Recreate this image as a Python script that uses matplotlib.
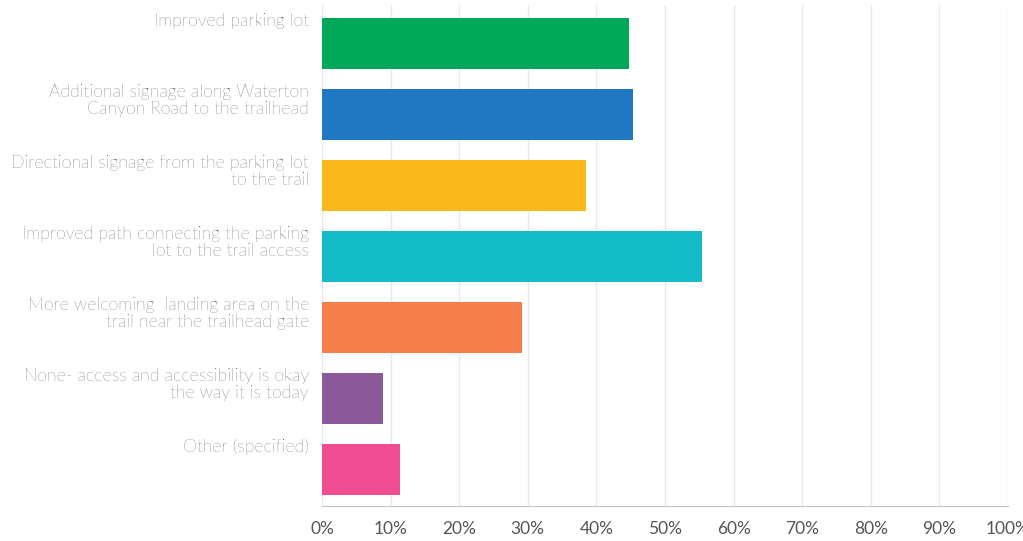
import matplotlib.pyplot as plt
import matplotlib.transforms as mtransforms
from matplotlib.ticker import FuncFormatter

labels = [
    "Improved parking lot",
    "Additional signage along Waterton\nCanyon Road to the trailhead",
    "Directional signage from the parking lot\nto the trail",
    "Improved path connecting the parking\nlot to the trail access",
    "More welcoming  landing area on the\ntrail near the trailhead gate",
    "None- access and accessibility is okay\nthe way it is today",
    "Other (specified)",
]
values = [44.8, 45.4, 38.5, 55.4, 29.2, 8.9, 11.4]
colors = ["#00a85a", "#1f78c1", "#f9b91a", "#13bcc7", "#f47f4a", "#8b5a9a", "#ef4f92"]
ticks = [0, 10, 20, 30, 40, 50, 60, 70, 80, 90, 100]

fig = plt.figure(figsize=(10.23, 5.41), dpi=100)
ax = fig.add_axes([322/1023, 1 - 506/541, 686/1023, 501/541])

ypos = list(range(len(labels)))
ax.barh(ypos, values, height=0.72, color=colors, zorder=3)

ax.set_xlim(0, 100)
ax.set_ylim(6.52, -0.54)
ax.set_xticks(ticks)
ax.xaxis.set_major_formatter(FuncFormatter(lambda v, p: "%d%%" % v))
ax.set_yticks([])
ax.grid(axis='x', color='#e6eaee', linewidth=1, zorder=0)
for s in ['top', 'right', 'left']:
    ax.spines[s].set_visible(False)
ax.spines['bottom'].set_color('#c4c4c4')
ax.tick_params(axis='x', length=0, pad=11, labelsize=12.5, labelcolor='#555555')
for t in ax.get_xticklabels():
    t.set_family('Lato')

trans = mtransforms.blended_transform_factory(fig.transFigure, ax.transData)
for i, lab in enumerate(labels):
    ax.text(309/1023, i - 0.43, lab, transform=trans, ha='right', va='top',
            fontsize=12.8, family='Lato', fontweight='light', color='#1e1e1e',
            linespacing=1.12, multialignment='right')

fig.savefig('out.png', dpi=100)
